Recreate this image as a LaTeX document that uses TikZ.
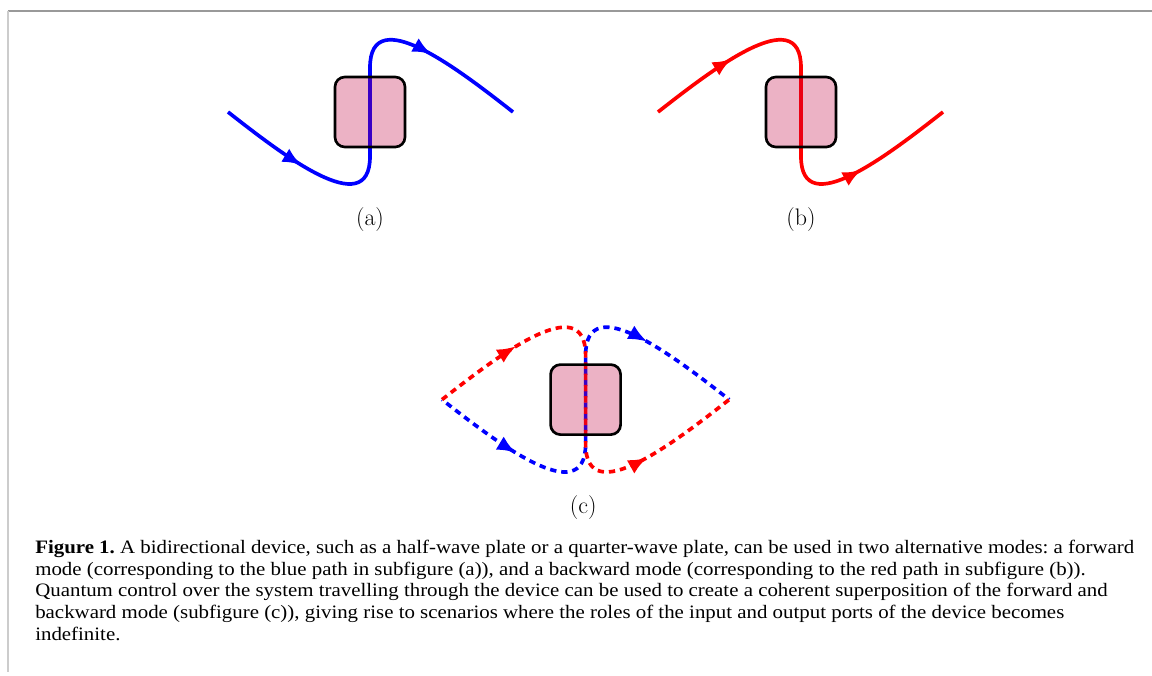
\documentclass[tikz,border=0pt]{standalone}
\usepackage{fontspec}
\newfontfamily\capfont[FakeStretch=1.1]{Liberation Serif}
\usetikzlibrary{arrows.meta,decorations.markings,backgrounds}

\begin{document}
\begin{tikzpicture}[
  device/.style={draw=black, line width=1.9pt, fill=purple, fill opacity=0.3,
    rounded corners=7pt, minimum size=1.75cm, inner sep=0pt},
  midarrows/.style={postaction={decorate}, decoration={markings,
    mark=at position 0.2 with {\arrow{Latex[length=13.5pt,width=11pt]}},
    mark=at position 0.78 with {\arrow{Latex[length=13.5pt,width=11pt]}}}},
  fwd/.style={blue, line width=2.6pt, midarrows},
  bwd/.style={red, line width=2.6pt, midarrows},
  both/.style={dash pattern=on 4.5pt off 3.5pt},
  sublabel/.style={font=\fontsize{17}{20}\selectfont, inner sep=0pt},
  caption/.style={font=\capfont\fontsize{13.5}{15.4}\selectfont\frenchspacing, align=left, inner sep=0pt}
]
\useasboundingbox (0,0) rectangle (28.8,-16.875);
% frame
\draw[black!40, line width=1.4pt] (0.2,-0.275) -- (28.8,-0.275);
\draw[black!20, line width=1.6pt] (0.2,-0.275) -- (0.2,-16.8);

% (a) forward mode
\begin{scope}[shift={(9.25,-2.8)}]
  \node[device] (devA) at (0,0) {};
  \coordinate (aIn) at (-3.55,0);
  \coordinate (aOut) at (3.575,0);
  \begin{pgfonlayer}{background}
    \draw[fwd] (aIn) to[out=-38,in=-90,looseness=1.15] ([yshift=-0.2cm]devA.south)
      -- ([yshift=0.2cm]devA.north) to[out=90,in=142,looseness=1.15] (aOut);
  \end{pgfonlayer}
  \node[sublabel] (labA) at (0,-2.7) {(a)};
\end{scope}

% (b) backward mode
\begin{scope}[shift={(20.025,-2.8)}]
  \node[device] (devB) at (0,0) {};
  \coordinate (bIn) at (-3.575,0);
  \coordinate (bOut) at (3.55,0);
  \begin{pgfonlayer}{background}
    \draw[bwd] (bIn) to[out=38,in=90,looseness=1.15] ([yshift=0.2cm]devB.north)
      -- ([yshift=-0.2cm]devB.south) to[out=-90,in=-142,looseness=1.15] (bOut);
  \end{pgfonlayer}
  \node[sublabel] (labB) at (0,-2.7) {(b)};
\end{scope}

% (c) superposition of both modes
\begin{scope}[shift={(14.64,-9.99)}]
  \node[device] (devC) at (0,0) {};
  \coordinate (cIn) at (-3.59,0);
  \coordinate (cOut) at (3.59,0);
  \begin{pgfonlayer}{background}
    \draw[fwd,both,dash phase=4pt] (cIn) to[out=-38,in=-90,looseness=1.15] ([yshift=-0.2cm]devC.south)
      -- ([yshift=0.2cm]devC.north) to[out=90,in=142,looseness=1.15] (cOut);
    \draw[bwd,both] (cIn) to[out=38,in=90,looseness=1.15] ([yshift=0.2cm]devC.north)
      -- ([yshift=-0.2cm]devC.south) to[out=-90,in=-142,looseness=1.15] (cOut);
  \end{pgfonlayer}
  \node[sublabel] (labC) at (-0.06,-2.69) {(c)};
\end{scope}

\node[caption, anchor=north west] (cap) at (0.875,-13.5) {%
  \textbf{Figure 1.} A bidirectional device, such as a half-wave plate or a quarter-wave plate, can be used in two alternative modes: a forward\\
  mode (corresponding to the blue path in subfigure (a)), and a backward mode (corresponding to the red path in subfigure (b)).\\
  Quantum control over the system travelling through the device can be used to create a coherent superposition of the forward and\\
  backward mode (subfigure (c)), giving rise to scenarios where the roles of the input and output ports of the device becomes\\
  indefinite.};
\end{tikzpicture}
\end{document}
